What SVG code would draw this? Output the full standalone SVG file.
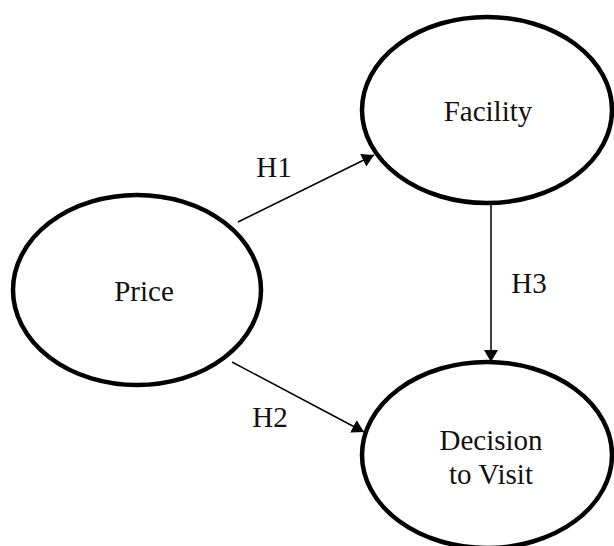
<svg xmlns="http://www.w3.org/2000/svg" width="614" height="546" viewBox="0 0 614 546">
<style>
.node{fill:#fff;stroke:#000;stroke-width:4.5}
.lbl{font-family:"Liberation Serif","Times New Roman",serif;font-size:29px;fill:#111;text-anchor:middle}
.edge{stroke:#000;stroke-width:1.5;fill:none;marker-end:url(#ah)}
</style>
<defs>
<marker id="ah" viewBox="0 0 12 14" refX="12" refY="7" markerWidth="12" markerHeight="14" markerUnits="userSpaceOnUse" orient="auto">
<path d="M0,0 L12,7 L0,14 Z" fill="#000"/>
</marker>
</defs>
<rect width="614" height="546" fill="#fff"/>
<g id="connectors">
<line class="edge" x1="238" y1="222" x2="374" y2="155"/>
<line class="edge" x1="232" y1="362" x2="364" y2="432"/>
<line class="edge" x1="491" y1="205" x2="491" y2="362"/>
<text class="lbl" x="274" y="177">H1</text>
<text class="lbl" x="270" y="427">H2</text>
<text class="lbl" x="529" y="293">H3</text>
</g>
<g id="facility">
<ellipse class="node" cx="487" cy="110" rx="125" ry="93"/>
<text class="lbl" x="488" y="121">Facility</text>
</g>
<g id="price">
<ellipse class="node" cx="137" cy="290" rx="124" ry="95"/>
<text class="lbl" x="144" y="301">Price</text>
</g>
<g id="decision">
<ellipse class="node" cx="487" cy="455" rx="125" ry="93"/>
<text class="lbl" x="491" y="450">Decision</text>
<text class="lbl" x="491" y="484">to Visit</text>
</g>
</svg>
